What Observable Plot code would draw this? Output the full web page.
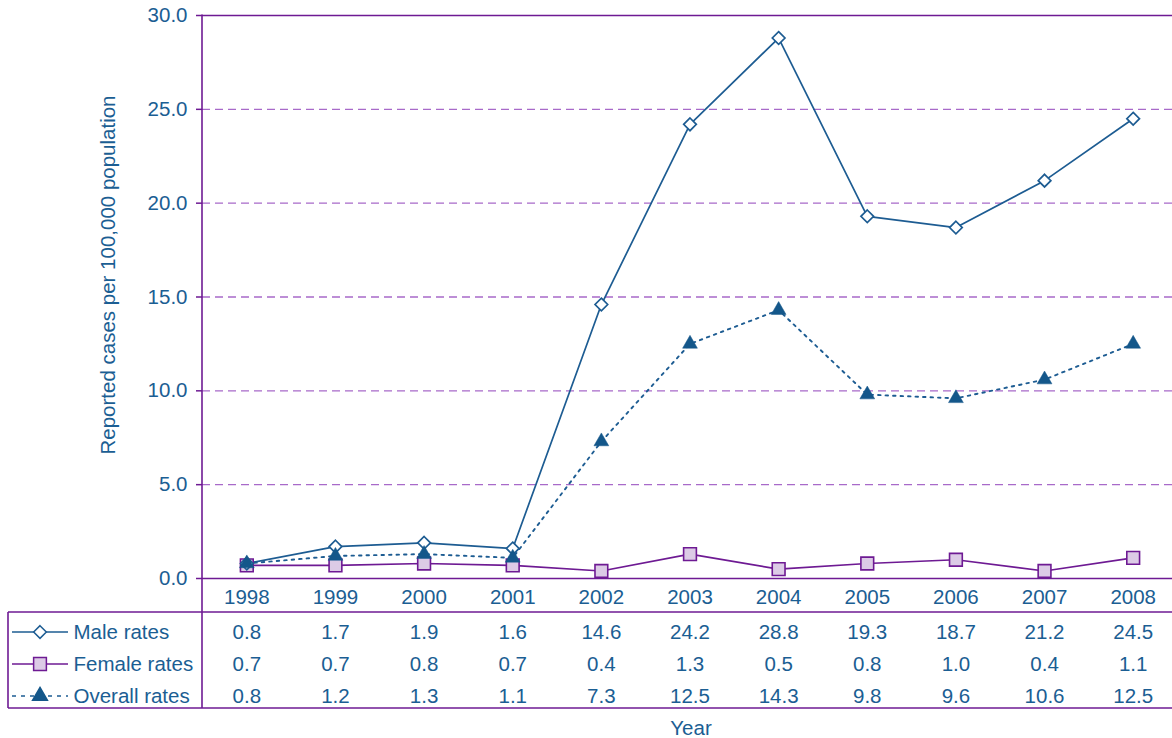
<!DOCTYPE html>
<html>
<head>
<meta charset="utf-8">
<script src="https://cdn.jsdelivr.net/npm/d3@7"></script>
<script src="https://cdn.jsdelivr.net/npm/@observablehq/plot@0.6"></script>
<style>
  html, body { margin: 0; padding: 0; background: #fff; overflow: hidden; }
  #chart svg { display: block; }
</style>
</head>
<body>
<div id="chart"></div>
<script>
const years = ["1998","1999","2000","2001","2002","2003","2004","2005","2006","2007","2008"];
const maleRates = [0.8, 1.7, 1.9, 1.6, 14.6, 24.2, 28.8, 19.3, 18.7, 21.2, 24.5];
const femaleRates = [0.7, 0.7, 0.8, 0.7, 0.4, 1.3, 0.5, 0.8, 1.0, 0.4, 1.1];
const overallRates = [0.8, 1.2, 1.3, 1.1, 7.3, 12.5, 14.3, 9.8, 9.6, 10.6, 12.5];
const seriesNames = ["Male rates", "Female rates", "Overall rates"];
const yTicks = [0, 5, 10, 15, 20, 25, 30];
const gridTicks = [5, 10, 15, 20, 25];

const BLUE = "#1b5e93";
const LINE_BLUE = "#1d5c92";
const TRI_BLUE = "#14578a";
const PURPLE = "#6e1a93";
const GRID = "#a86ac9";
const LAVENDER = "#dccbe6";
const FONT = "'Liberation Sans', Arial, Helvetica, sans-serif";
const FS = 20.5;

const rows = (vals) => years.map((y, i) => ({year: y, value: vals[i]}));
const male = rows(maleRates), female = rows(femaleRates), overall = rows(overallRates);
const tableRows = [maleRates, femaleRates, overallRates];
const rowDy = [54, 86, 118];

const marks = [
  Plot.ruleY(gridTicks, {stroke: GRID, strokeWidth: 1.3, strokeDasharray: "8,5"}),
  Plot.ruleY([30], {stroke: PURPLE, strokeWidth: 1.5}),
  Plot.ruleY([0], {stroke: PURPLE, strokeWidth: 1.5}),
  Plot.axisY({ticks: yTicks, tickSize: 6, tickPadding: 9, tickFormat: d => d.toFixed(1),
    stroke: PURPLE, strokeWidth: 1.5, fill: BLUE, fontSize: FS, label: null}),
  Plot.line(female, {x: "year", y: "value", stroke: PURPLE, strokeWidth: 1.7}),
  Plot.line(male, {x: "year", y: "value", stroke: LINE_BLUE, strokeWidth: 1.7}),
  Plot.line(overall, {x: "year", y: "value", stroke: LINE_BLUE, strokeWidth: 1.9, strokeDasharray: "2.5,5"}),
  Plot.dot(female, {x: "year", y: "value", symbol: "square", r: 7.2, fill: LAVENDER, stroke: PURPLE, strokeWidth: 1.6}),
  Plot.dot(male, {x: "year", y: "value", symbol: "diamond2", r: 5.7, fill: "white", stroke: LINE_BLUE, strokeWidth: 1.7}),
  Plot.dot(overall, {x: "year", y: "value", symbol: "triangle", r: 5.5, fill: TRI_BLUE, stroke: TRI_BLUE, strokeWidth: 0.5}),
  // table: year header
  Plot.text(years, {x: d => d, text: d => d, frameAnchor: "bottom", lineAnchor: "middle", dy: 19, fill: BLUE, fontSize: FS}),
  // "Year" label
  Plot.text(["Year"], {text: d => d, frameAnchor: "bottom", lineAnchor: "middle", dx: 1, dy: 150, fill: BLUE, fontSize: FS})
];
tableRows.forEach((vals, r) => {
  marks.push(Plot.text(years, {x: d => d, text: (d, i) => vals[i].toFixed(1), frameAnchor: "bottom", lineAnchor: "middle", dy: rowDy[r], fill: BLUE, fontSize: FS}));
  marks.push(Plot.text([seriesNames[r]], {text: d => d, frameAnchor: "bottom-left", lineAnchor: "middle", dx: -129, dy: rowDy[r], textAnchor: "start", fill: BLUE, fontSize: FS}));
});
// y-axis label
marks.push(Plot.text(["Reported cases per 100,000 population"], {text: d => d, frameAnchor: "left", textAnchor: "middle", lineAnchor: "middle", dx: -94, dy: -22, rotate: -90, fill: BLUE, fontSize: FS}));

const plot = Plot.plot({
  width: 1172,
  height: 738,
  marginLeft: 202,
  marginRight: -5,
  marginTop: 15,
  marginBottom: 160,
  style: {fontFamily: FONT, fontSize: FS + "px", background: "white", overflow: "hidden"},
  x: {type: "point", domain: years, padding: 0.5, round: false, axis: null},
  y: {domain: [0, 30], axis: null},
  marks
});
document.getElementById("chart").appendChild(plot);

// table borders and legend swatches
const svg = d3.select(plot);
const ys = plot.scale("y");
const y0 = ys.apply(0), yTop = ys.apply(30);
const xL = 202, xR = 1172, xT = 8;
const g = svg.append("g").attr("stroke", PURPLE).attr("stroke-width", 1.6).attr("fill", "none");
g.append("line").attr("x1", xL).attr("x2", xL).attr("y1", yTop - 0.5).attr("y2", y0 + 130);
g.append("line").attr("x1", xT).attr("x2", xR).attr("y1", y0 + 34).attr("y2", y0 + 34);
g.append("line").attr("x1", xT).attr("x2", xR).attr("y1", y0 + 130).attr("y2", y0 + 130);
g.append("line").attr("x1", xT).attr("x2", xT).attr("y1", y0 + 34).attr("y2", y0 + 130);

const lg = svg.append("g");
const sw = [
  {stroke: LINE_BLUE, dash: null, sym: d3.symbolDiamond2, r: 5.7, fill: "white", sstroke: LINE_BLUE},
  {stroke: PURPLE, dash: null, sym: d3.symbolSquare, r: 7.2, fill: LAVENDER, sstroke: PURPLE},
  {stroke: LINE_BLUE, dash: "4,5", sym: d3.symbolTriangle, r: 5.5, fill: TRI_BLUE, sstroke: TRI_BLUE}
];
sw.forEach((s, i) => {
  const yy = y0 + rowDy[i];
  lg.append("line").attr("x1", 12).attr("x2", 68).attr("y1", yy).attr("y2", yy)
    .attr("stroke", s.stroke).attr("stroke-width", 1.7).attr("stroke-dasharray", s.dash);
  lg.append("path").attr("d", d3.symbol(s.sym, Math.PI * s.r * s.r)())
    .attr("transform", `translate(40,${yy})`).attr("fill", s.fill).attr("stroke", s.sstroke).attr("stroke-width", 1.5);
});
</script>
</body>
</html>
